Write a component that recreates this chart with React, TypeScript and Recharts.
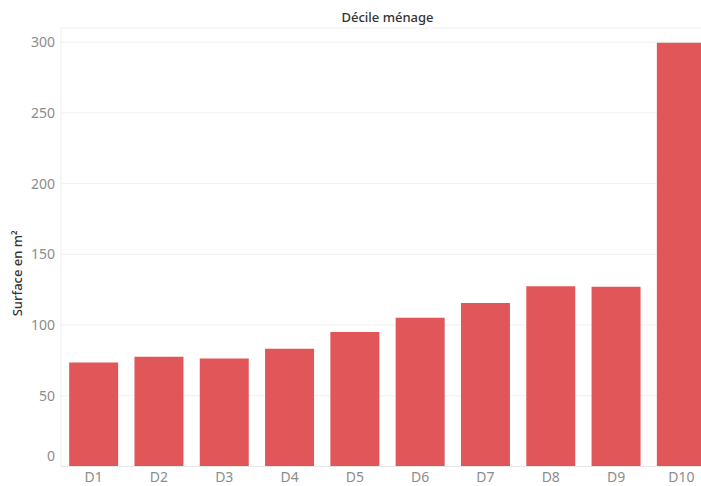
import React from "react";
import { BarChart, Bar, XAxis, YAxis, CartesianGrid, Label } from "recharts";

const categories = ["D1", "D2", "D3", "D4", "D5", "D6", "D7", "D8", "D9", "D10"];
const surfaces = [73.5, 77.6, 76.4, 83.3, 95.0, 105.2, 115.5, 127.5, 127.0, 299.5];
const yTicks = [0, 50, 100, 150, 200, 250, 300];
const chartTitle = "Décile ménage";
const yLabel = "Surface en m²";

const data = categories.map((c, i) => ({ decile: c, surface: surfaces[i] }));

const FONT = "'Noto Sans', 'DejaVu Sans', sans-serif";

function YTick(props: any) {
  const { x, y, payload } = props;
  const dy = payload.value === 0 ? -10 : 0;
  return (
    <text x={x} y={y + dy} dy="0.355em" textAnchor="end" fill="#8c8c8c" fontSize={14} fontFamily={FONT}>
      {payload.value}
    </text>
  );
}

function XTick(props: any) {
  const { x, y, payload } = props;
  return (
    <text x={x} y={y} dy="0.71em" textAnchor="middle" fill="#8c8c8c" fontSize={14} fontFamily={FONT}>
      {payload.value}
    </text>
  );
}

function YLabel(props: any) {
  const { viewBox } = props;
  const cy = viewBox.y + viewBox.height / 2 + 26;
  return (
    <text
      x={17}
      y={cy}
      transform={`rotate(-90, 17, ${cy})`}
      textAnchor="middle"
      dominantBaseline="central"
      fill="#333"
      fontSize={13}
      fontWeight={500}
      fontFamily={FONT}
    >
      {yLabel}
    </text>
  );
}

export default function App() {
  return (
    <div
      style={{
        position: "absolute",
        left: 0,
        top: 0,
        width: 701,
        height: 486,
        overflow: "hidden",
        background: "#fff",
      }}
    >
      <div
        style={{
          position: "absolute",
          left: 61,
          width: 653,
          top: 7,
          textAlign: "center",
          fontFamily: FONT,
          fontSize: 13,
          fontWeight: 500,
          color: "#333",
          lineHeight: "20px",
        }}
      >
        {chartTitle}
      </div>
      <BarChart
        width={720}
        height={486}
        data={data}
        margin={{ top: 28, right: 6, bottom: 0, left: 0 }}
        barCategoryGap="12.5%"
      >
        <CartesianGrid horizontal={true} vertical={false} stroke="#f0f0f0" />
        <XAxis
          dataKey="decile"
          height={19.5}
          tickLine={false}
          tickSize={0}
          tickMargin={6}
          axisLine={{ stroke: "#e6e6e6" }}
          tick={<XTick />}
          interval={0}
        />
        <YAxis
          width={61}
          domain={[0, 310]}
          ticks={yTicks}
          tickLine={false}
          tickSize={0}
          tickMargin={6}
          axisLine={{ stroke: "#eeeeee" }}
          tick={<YTick />}
        >
          <Label content={<YLabel />} />
        </YAxis>
        <Bar dataKey="surface" fill="#E15759" isAnimationActive={false} />
      </BarChart>
    </div>
  );
}
